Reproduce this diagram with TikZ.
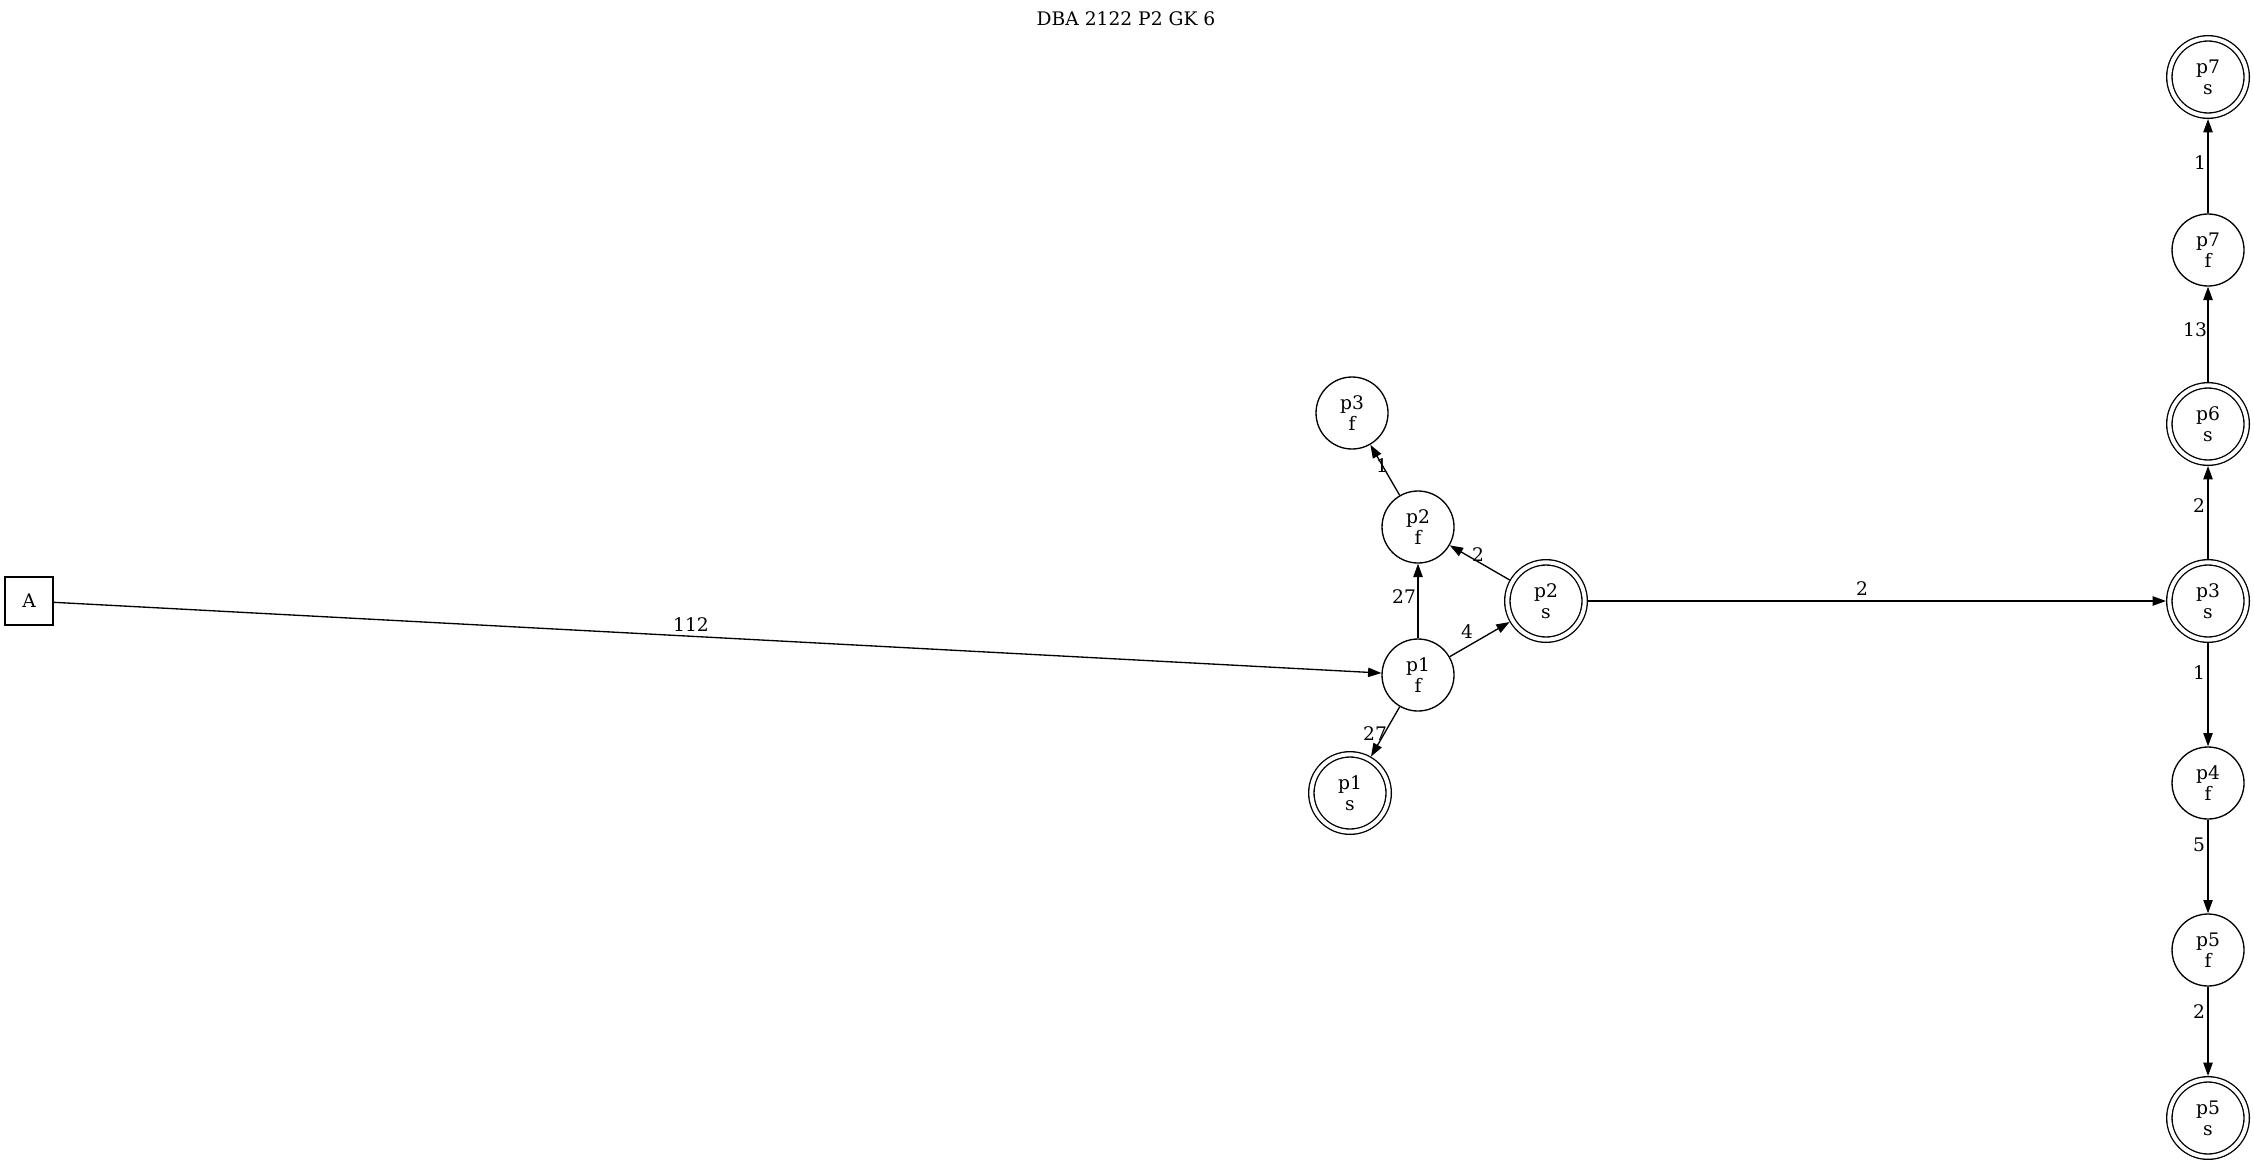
\documentclass[tikz,border=0pt]{standalone}
\usepackage{fontspec}
\setmainfont{DejaVu Serif}
\usetikzlibrary{arrows.meta}
\begin{document}
\begin{tikzpicture}[x=0.75pt,y=-0.75pt,
  every node/.style={font=\fontsize{14pt}{15.5pt}\selectfont},
  st/.style={circle, draw, line width=1pt, minimum size=54pt, inner sep=0pt, align=center},
  acc/.style={circle, draw, line width=1pt, double, double distance=3pt, minimum size=58pt, inner sep=0pt, outer sep=2.5pt, align=center},
  boxst/.style={rectangle, draw, line width=1pt, minimum width=36pt, minimum height=36pt, inner sep=0pt},
  lbl/.style={inner sep=0pt},
  edge/.style={line width=1pt, -{Triangle[length=10pt,width=7pt]}}]
\useasboundingbox (0,0) rectangle (2254,1167);
\node[lbl] (title) at (1126,19) {DBA 2122 P2 GK 6};
\node[boxst] (A) at (29,601) {A};
\node[st] (p1f) at (1418,675) {p1\\f};
\node[acc] (p1s) at (1350,793) {p1\\s};
\node[st] (p2f) at (1418,527) {p2\\f};
\node[st] (p3f) at (1352,413) {p3\\f};
\node[acc] (p2s) at (1546,601) {p2\\s};
\node[acc] (p3s) at (2208,601) {p3\\s};
\node[st] (p4f) at (2208,783) {p4\\f};
\node[st] (p5f) at (2208,950) {p5\\f};
\node[acc] (p5s) at (2208,1118) {p5\\s};
\node[acc] (p6s) at (2208,424) {p6\\s};
\node[st] (p7f) at (2208,250) {p7\\f};
\node[acc] (p7s) at (2208,77) {p7\\s};

\draw[edge] (A) -- (p1f);
\draw[edge] (p1f) -- (p2f);
\draw[edge] (p1f) -- (p1s);
\draw[edge] (p1f) -- (p2s);
\draw[edge] (p2s) -- (p2f);
\draw[edge] (p2f) -- (p3f);
\draw[edge] (p2s) -- (p3s);
\draw[edge] (p3s) -- (p6s);
\draw[edge] (p6s) -- (p7f);
\draw[edge] (p7f) -- (p7s);
\draw[edge] (p3s) -- (p4f);
\draw[edge] (p4f) -- (p5f);
\draw[edge] (p5f) -- (p5s);

\node[lbl] (l1) at (691,625) {112};
\node[lbl] (l2) at (1404,597) {27};
\node[lbl] (l3) at (1375,734) {27};
\node[lbl] (l4) at (1467,632) {4};
\node[lbl] (l5) at (1478,555) {2};
\node[lbl] (l6) at (1382,466) {1};
\node[lbl] (l7) at (1862,589) {2};
\node[lbl] (l8) at (2199,506) {2};
\node[lbl] (l9) at (2195,330) {13};
\node[lbl] (l10) at (2200,163) {1};
\node[lbl] (l11) at (2199,673) {1};
\node[lbl] (l12) at (2199,845) {5};
\node[lbl] (l13) at (2199,1012) {2};
\end{tikzpicture}
\end{document}
